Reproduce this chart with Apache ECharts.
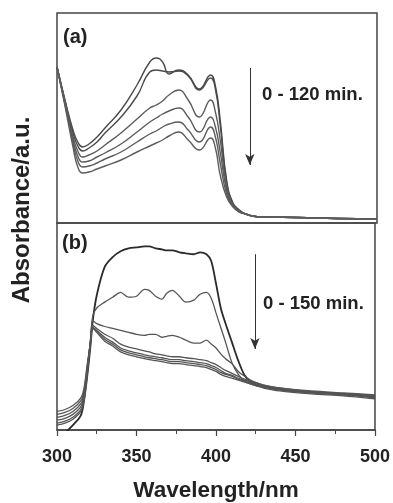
<!DOCTYPE html>
<html>
<head>
<meta charset="utf-8">
<script src="https://cdn.jsdelivr.net/npm/echarts@6/dist/echarts.min.js"></script>
<style>
  html, body { margin: 0; padding: 0; background: #fff; }
  #chart { width: 393px; height: 503px; }
</style>
</head>
<body>
<div id="chart"></div>
<script>
// panel (a): 0 - 120 min
const wlA = [300, 305, 310, 313, 316, 320, 325, 330, 340, 350, 358, 362, 366, 370, 376, 382, 389, 396, 399, 402, 406, 410, 414, 418, 422, 430, 450, 475, 500];
const a1 = [1.56, 1.23, 0.93, 0.81, 0.76, 0.79, 0.86, 0.95, 1.13, 1.38, 1.61, 1.65, 1.61, 1.49, 1.53, 1.48, 1.34, 1.48, 1.37, 1.03, 0.43, 0.20, 0.13, 0.09, 0.07, 0.06, 0.055, 0.045, 0.04];
const a2 = [1.56, 1.22, 0.90, 0.77, 0.72, 0.75, 0.81, 0.90, 1.06, 1.27, 1.51, 1.53, 1.52, 1.51, 1.52, 1.47, 1.33, 1.45, 1.34, 0.98, 0.41, 0.19, 0.12, 0.09, 0.07, 0.06, 0.055, 0.045, 0.04];
const a3 = [1.56, 1.21, 0.86, 0.72, 0.66, 0.68, 0.72, 0.78, 0.90, 1.04, 1.15, 1.18, 1.22, 1.28, 1.33, 1.23, 1.06, 1.23, 1.11, 0.83, 0.37, 0.18, 0.12, 0.09, 0.07, 0.06, 0.055, 0.045, 0.04];
const a4 = [1.56, 1.20, 0.83, 0.67, 0.61, 0.62, 0.66, 0.70, 0.79, 0.91, 1.01, 1.05, 1.09, 1.12, 1.15, 1.06, 0.91, 1.06, 0.96, 0.71, 0.33, 0.17, 0.11, 0.09, 0.07, 0.06, 0.055, 0.045, 0.04];
const a5 = [1.56, 1.19, 0.80, 0.62, 0.56, 0.57, 0.60, 0.64, 0.71, 0.81, 0.89, 0.92, 0.96, 0.99, 1.01, 0.93, 0.81, 0.96, 0.86, 0.60, 0.29, 0.17, 0.11, 0.09, 0.07, 0.06, 0.055, 0.045, 0.04];
const a6 = [1.56, 1.17, 0.76, 0.56, 0.50, 0.51, 0.54, 0.57, 0.63, 0.71, 0.77, 0.80, 0.83, 0.87, 0.91, 0.83, 0.73, 0.85, 0.75, 0.48, 0.26, 0.16, 0.11, 0.09, 0.07, 0.06, 0.055, 0.045, 0.04];

// panel (b): 0 - 150 min
const wlB = [300, 305, 310, 315, 317, 319, 321, 322.5, 325, 330, 335, 340, 345, 350, 355, 358, 362, 366, 369, 372.5, 377, 381, 386, 390, 394, 397, 400, 403, 406, 410, 414, 418, 422, 426, 430, 440, 460, 480, 500];
const b1 = [-0.10, -0.03, 0.05, 0.15, 0.30, 0.55, 0.85, 1.12, 1.38, 1.67, 1.77, 1.83, 1.86, 1.87, 1.88, 1.88, 1.86, 1.85, 1.84, 1.84, 1.82, 1.81, 1.80, 1.82, 1.80, 1.73, 1.50, 1.25, 1.09, 0.90, 0.71, 0.56, 0.49, 0.46, 0.44, 0.42, 0.39, 0.37, 0.35];
const b2 = [0.05, 0.07, 0.11, 0.19, 0.30, 0.57, 0.90, 1.17, 1.25, 1.31, 1.36, 1.41, 1.36, 1.37, 1.44, 1.43, 1.37, 1.34, 1.40, 1.43, 1.37, 1.31, 1.33, 1.39, 1.41, 1.35, 1.20, 1.05, 0.90, 0.69, 0.57, 0.50, 0.47, 0.45, 0.44, 0.41, 0.38, 0.36, 0.34];
const b3 = [0.07, 0.09, 0.13, 0.21, 0.32, 0.59, 0.92, 1.12, 1.09, 1.06, 1.04, 1.02, 1.00, 0.98, 0.97, 0.98, 0.98, 0.95, 0.96, 0.97, 0.95, 0.92, 0.89, 0.89, 0.92, 0.88, 0.84, 0.78, 0.73, 0.68, 0.60, 0.55, 0.51, 0.48, 0.46, 0.43, 0.39, 0.37, 0.35];
const b4 = [0.10, 0.12, 0.16, 0.24, 0.35, 0.61, 0.90, 1.07, 1.04, 0.98, 0.94, 0.88, 0.85, 0.83, 0.81, 0.80, 0.78, 0.77, 0.76, 0.75, 0.75, 0.74, 0.73, 0.72, 0.71, 0.69, 0.67, 0.64, 0.61, 0.58, 0.55, 0.52, 0.50, 0.48, 0.46, 0.43, 0.40, 0.38, 0.36];
const b5 = [0.13, 0.15, 0.19, 0.27, 0.37, 0.63, 0.89, 1.05, 1.02, 0.95, 0.90, 0.84, 0.81, 0.79, 0.77, 0.76, 0.75, 0.74, 0.73, 0.72, 0.72, 0.71, 0.70, 0.69, 0.68, 0.66, 0.64, 0.61, 0.58, 0.56, 0.53, 0.51, 0.49, 0.47, 0.45, 0.42, 0.39, 0.37, 0.34];
const b6 = [0.16, 0.18, 0.22, 0.30, 0.40, 0.65, 0.89, 1.05, 1.01, 0.93, 0.88, 0.82, 0.79, 0.77, 0.75, 0.74, 0.73, 0.72, 0.71, 0.70, 0.70, 0.69, 0.68, 0.67, 0.66, 0.64, 0.62, 0.59, 0.57, 0.55, 0.52, 0.50, 0.48, 0.46, 0.44, 0.41, 0.38, 0.36, 0.33];
const b7 = [0.19, 0.21, 0.25, 0.33, 0.43, 0.67, 0.89, 1.04, 1.00, 0.91, 0.86, 0.80, 0.77, 0.75, 0.73, 0.72, 0.71, 0.70, 0.69, 0.68, 0.68, 0.67, 0.66, 0.65, 0.64, 0.62, 0.60, 0.57, 0.55, 0.53, 0.51, 0.49, 0.47, 0.45, 0.43, 0.40, 0.37, 0.35, 0.32];

const xTicks = [300, 350, 400, 450, 500];

const FONT = 'Liberation Sans, Arial, sans-serif';
const seriesA = [a1, a2, a3, a4, a5, a6];
const seriesB = [b1, b2, b3, b4, b5, b6, b7];

const chart = echarts.init(document.getElementById('chart'));

function makeLine(wl, vals, idx, color, width, smooth) {
  return {
    type: 'line',
    xAxisIndex: idx,
    yAxisIndex: idx,
    data: wl.map((w, i) => [w, vals[i]]),
    showSymbol: false,
    smooth: smooth,
    clip: true,
    lineStyle: { color: color, width: width },
    silent: true,
  };
}

const series = [];
seriesA.forEach((v, i) => series.push(makeLine(wlA, v, 0, i < 2 ? '#4a4a4a' : '#5c5c5c', 1.4, 0.5)));
seriesB.forEach((v, i) => series.push(makeLine(wlB, v, 1, i === 0 ? '#2a2a2a' : '#555', i === 0 ? 1.8 : 1.3, 0.3)));

// arrows
series[0].markLine = {
  silent: true,
  symbol: ['none', 'arrow'],
  symbolSize: [7, 11],
  label: { show: false },
  lineStyle: { color: '#333', width: 1, type: 'solid' },
  data: [[{ coord: [420.5, 1.55] }, { coord: [420.5, 0.58] }]],
};
series[6].markLine = {
  silent: true,
  symbol: ['none', 'arrow'],
  symbolSize: [7, 11],
  label: { show: false },
  lineStyle: { color: '#333', width: 1, type: 'solid' },
  data: [[{ coord: [424.5, 1.80] }, { coord: [424.5, 0.83] }]],
};

const option = {
  animation: false,
  backgroundColor: '#fff',
  grid: [
    { left: 57, top: 13, width: 320, height: 210, show: true, borderColor: '#444', borderWidth: 1.5 },
    { left: 57, top: 223, width: 320, height: 212, show: true, borderColor: '#444', borderWidth: 1.5 },
  ],
  xAxis: [
    {
      type: 'value', gridIndex: 0, min: 300, max: 500,
      axisLine: { show: false }, axisTick: { show: false },
      axisLabel: { show: false }, splitLine: { show: false },
    },
    {
      type: 'value', gridIndex: 1, min: 300, max: 500, interval: 50,
      name: 'Wavelength/nm',
      nameLocation: 'middle',
      nameGap: 49,
      nameTextStyle: { fontFamily: FONT, fontWeight: 'bold', fontSize: 22.5, color: '#222' },
      axisLine: { show: true, lineStyle: { color: '#444', width: 1.5 } },
      axisTick: { show: true, inside: false, length: 6, lineStyle: { color: '#444', width: 1.2 } },
      minorTick: { show: true, splitNumber: 2, length: 4, lineStyle: { color: '#444', width: 1 } },
      axisLabel: {
        margin: 18,
        fontFamily: FONT, fontWeight: 'bold', fontSize: 18, color: '#222',
        formatter: (v) => (xTicks.includes(v) ? String(v) : ''),
      },
      splitLine: { show: false },
    },
  ],
  yAxis: [
    { type: 'value', gridIndex: 0, min: 0, max: 2.10, show: false },
    { type: 'value', gridIndex: 1, min: 0, max: 2.12, show: false },
  ],
  graphic: [
    {
      type: 'text', left: 63, top: 27,
      style: { text: '(a)', font: 'bold 20px ' + FONT, fill: '#222' },
    },
    {
      type: 'text', left: 62, top: 233,
      style: { text: '(b)', font: 'bold 20px ' + FONT, fill: '#222' },
    },
    {
      type: 'text', left: 262, top: 85,
      style: { text: '0 - 120 min.', font: 'bold 18.5px ' + FONT, fill: '#222' },
    },
    {
      type: 'text', left: 263, top: 294,
      style: { text: '0 - 150 min.', font: 'bold 18.5px ' + FONT, fill: '#222' },
    },
    {
      type: 'text', x: 22, y: 210, rotation: Math.PI / 2,
      style: {
        text: 'Absorbance/a.u.', font: 'bold 24px ' + FONT, fill: '#222',
        textAlign: 'center', textVerticalAlign: 'middle',
      },
    },
  ],
  series: series,
};

chart.setOption(option);
</script>
</body>
</html>
